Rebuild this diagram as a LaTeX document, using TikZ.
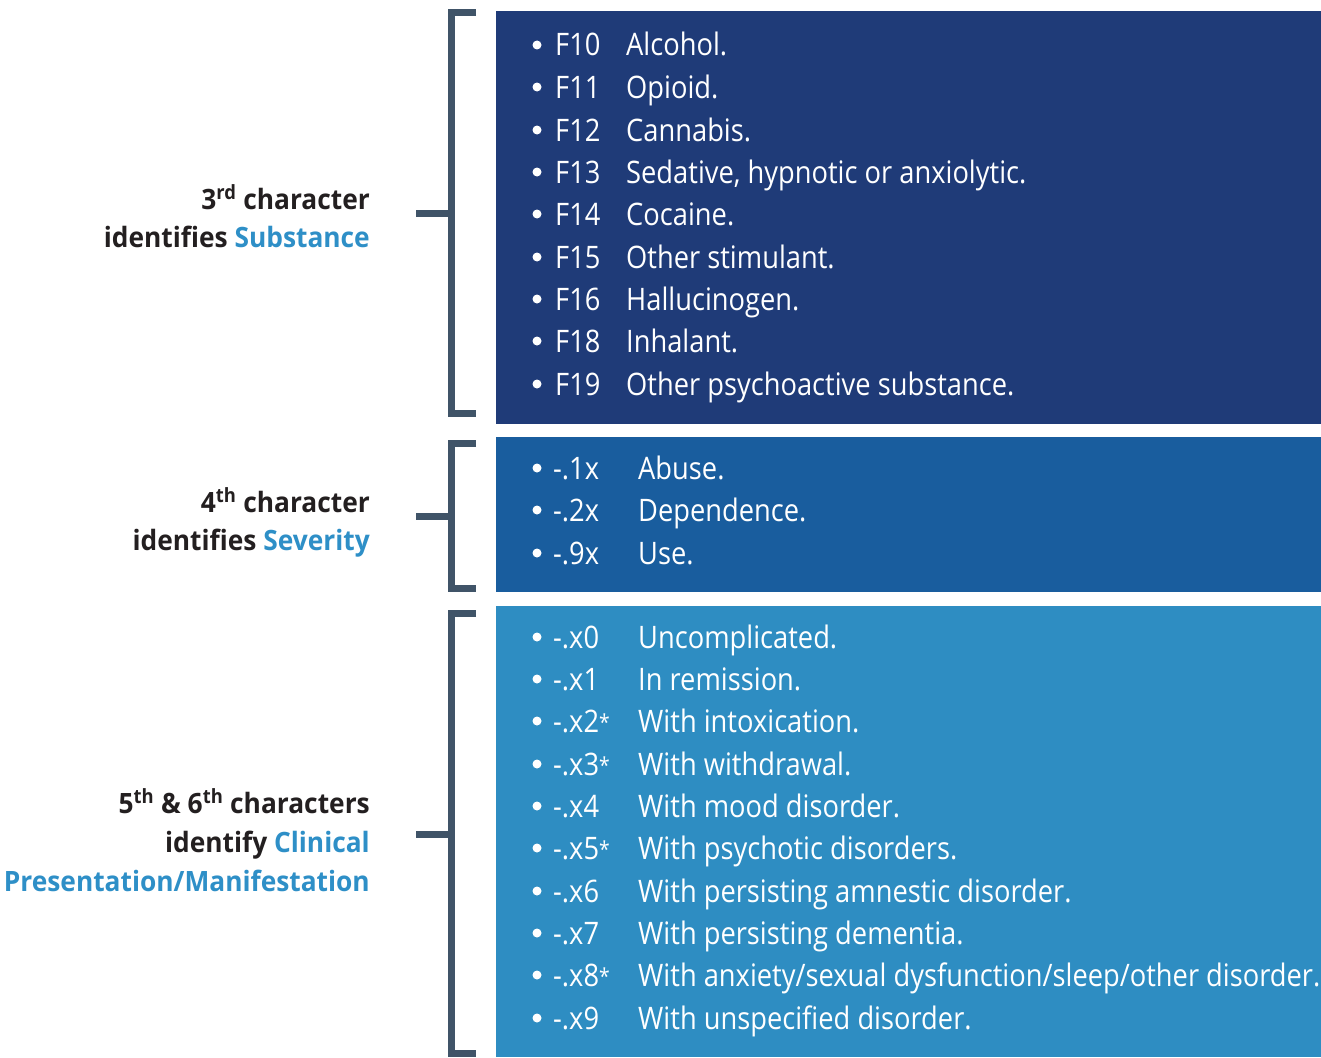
\documentclass[tikz,border=0pt]{standalone}
\usepackage{fontspec}
\setmainfont{Open Sans}[FakeStretch=0.88]
\newfontfamily\hdfont{Open Sans}[FakeStretch=0.94]
\definecolor{boxA}{RGB}{31,59,120}
\definecolor{boxB}{RGB}{25,93,158}
\definecolor{boxC}{RGB}{46,141,194}
\definecolor{hilite}{RGB}{46,143,199}
\definecolor{brk}{RGB}{64,84,104}
\definecolor{ink}{RGB}{35,31,32}
\tikzset{
  panel/.style={inner sep=0pt, outer sep=0pt, anchor=north west, minimum width=825pt},
  bracketline/.style={draw=brk, line width=7pt, line join=miter, line cap=butt},
  itemtxt/.style={text=white, inner sep=0pt, anchor=base west, font=\fontsize{31}{31}\selectfont},
  dot/.style={fill=white},
  hd/.style={text=ink, inner sep=0pt, anchor=base east, font=\hdfont\fontsize{28}{38}\selectfont\bfseries},
}
\newcommand{\hl}[1]{\textcolor{hilite}{#1}}
\newcommand{\myast}{{\fontsize{22}{22}\selectfont\raisebox{2pt}{*}}}
\begin{document}
\begin{tikzpicture}[x=1pt,y=-1pt]
\useasboundingbox (0,0) rectangle (1321,1057);
% panels
\node[panel, fill=boxA, minimum height=413pt] (p1) at (496,11) {};
\node[panel, fill=boxB, minimum height=155pt] (p2) at (496,437) {};
\node[panel, fill=boxC, minimum height=451pt] (p3) at (496,606) {};
% brackets
\draw[bracketline] (476,13) -- (451.5,13) -- (451.5,413) -- (476,413);
\draw[bracketline] (416,213) -- (451.5,213);
\draw[bracketline] (476,443.5) -- (451.5,443.5) -- (451.5,588) -- (476,588);
\draw[bracketline] (416,516) -- (451.5,516);
\draw[bracketline] (476,613) -- (451.5,613) -- (451.5,1053) -- (476,1053);
\draw[bracketline] (416,834) -- (451.5,834);
% headings
\node[hd] (h1a) at (370,209) {3\textsuperscript{rd} character};
\node[hd] (h1b) at (370,247) {identifies \hl{Substance}};
\node[hd] (h2a) at (370,512) {4\textsuperscript{th} character};
\node[hd] (h2b) at (370,550) {identifies \hl{Severity}};
\node[hd] (h3a) at (370,813) {5\textsuperscript{th} \& 6\textsuperscript{th} characters};
\node[hd] (h3b) at (370,852) {identify \hl{Clinical}};
\node[hd] (h3c) at (370,891) {\hl{Presentation/Manifestation}};
% items box 1
\foreach \yy/\cc/\tt [count=\i] in {45/F10/Alcohol., 87/F11/Opioid., 130/F12/Cannabis.,
  172/F13/{Sedative, hypnotic or anxiolytic.}, 214/F14/Cocaine., 257/F15/Other stimulant.,
  299/F16/Hallucinogen., 341/F18/Inhalant., 384/F19/Other psychoactive substance.}{
  \fill[dot] (537,\yy) circle (4.5pt);
  \node[itemtxt] (a\i) at (555,\yy+11) {\cc};
  \node[itemtxt] (at\i) at (626,\yy+11) {\tt};
}
% items box 2
\foreach \yy/\cc/\tt [count=\i] in {468/-.1x/Abuse., 510/-.2x/Dependence., 553/-.9x/Use.}{
  \fill[dot] (537,\yy) circle (4.5pt);
  \node[itemtxt] (b\i) at (553,\yy+11) {\cc};
  \node[itemtxt] (bt\i) at (638,\yy+11) {\tt};
}
% items box 3
\foreach \yy/\cc/\tt [count=\i] in {637/-.x0/Uncomplicated., 679/-.x1/In remission.,
  721/{-.x2\myast}/With intoxication., 764/{-.x3\myast}/With withdrawal., 806/-.x4/With mood disorder.,
  848/{-.x5\myast}/With psychotic disorders., 891/-.x6/With persisting amnestic disorder.,
  933/-.x7/With persisting dementia., 975/{-.x8\myast}/{With anxiety/sexual dysfunction/sleep/other disorder.},
  1018/-.x9/With unspecified disorder.}{
  \fill[dot] (537,\yy) circle (4.5pt);
  \node[itemtxt] (c\i) at (553,\yy+11) {\cc};
  \node[itemtxt] (ct\i) at (638,\yy+11) {\tt};
}
\end{tikzpicture}
\end{document}
